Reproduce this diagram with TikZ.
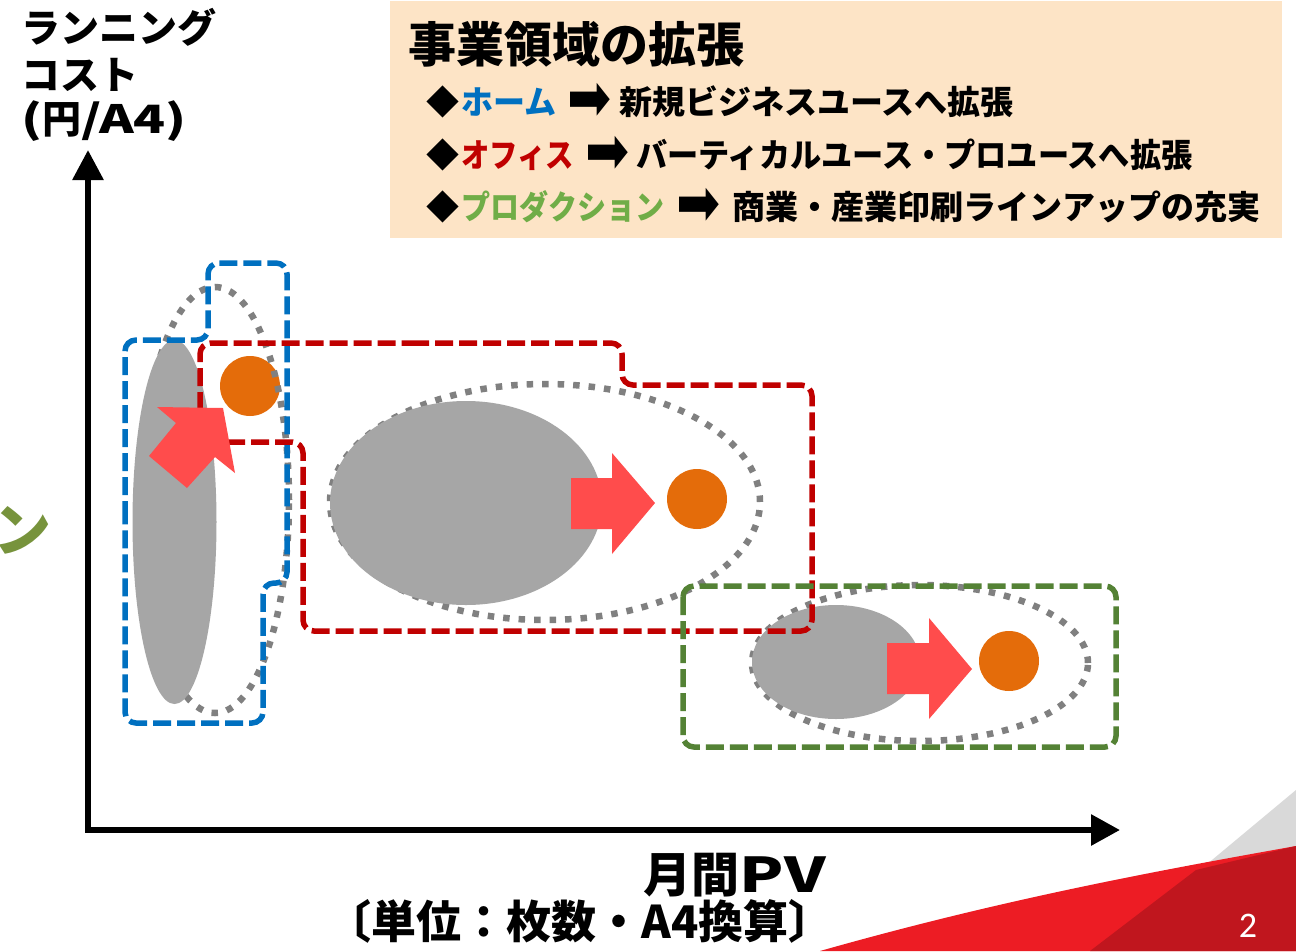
\documentclass[tikz,border=0pt]{standalone}
\usepackage{fontspec}
\usepackage{graphicx}
\newfontfamily\jp{Noto Sans CJK JP}
\newfontfamily\dvs{DejaVu Sans}
\newfontfamily\carl{Carlito}
\usetikzlibrary{arrows.meta}
\newcommand{\jfs}[1]{\fontsize{#1pt}{#1pt}\selectfont}
\newcommand{\bigrarr}{{\dvs\jfs{34}\scalebox{1.55}[1.95]{➡}}}
\definecolor{homeblue}{HTML}{0070C0}
\definecolor{offred}{HTML}{C00000}
\definecolor{prodgreen}{HTML}{548235}
\definecolor{txtgreen}{HTML}{70AD47}
\definecolor{cutgreen}{HTML}{77933C}
\definecolor{peach}{RGB}{253,228,198}
\definecolor{grayfill}{HTML}{A6A6A6}
\definecolor{dotgray}{HTML}{808080}
\definecolor{orng}{HTML}{E46C0A}
\definecolor{arrred}{RGB}{255,76,76}
\definecolor{decored}{HTML}{ED1C24}
\definecolor{decodark}{HTML}{C0161E}
\definecolor{decogray}{HTML}{D9D9D9}
\tikzset{
  jtxt/.style={inner sep=0pt, anchor=base west},
  dotline/.style={draw=dotgray, line width=6.5pt, dash pattern=on 6.5pt off 9pt},
  dashline/.style={line width=5.5pt, dash pattern=on 18pt off 6pt, rounded corners=11pt},
  blob/.style={fill=grayfill},
  target/.style={fill=orng},
  bigarrow/.style={fill=arrred},
}
\begin{document}
\begin{tikzpicture}[x=1pt,y=-1pt]
\useasboundingbox (0,0) rectangle (1296,951);
\fill[white] (0,0) rectangle (1296,951);

% decoration bottom right
\fill[decogray] (1296,790) -- (1200,870) -- (1296,846) -- cycle;
\fill[decored] (820,951) .. controls (1000,900) and (1150,872) .. (1296,846) -- (1296,951) -- cycle;
\fill[decodark] (1090,951) -- (1196,870) -- (1296,846) -- (1296,951) -- cycle;
\node[inner sep=0pt, anchor=base, text=white, font=\carl\jfs{36}] (pagenum) at (1248,937) {2};

% peach box
\fill[peach] (390,1) rectangle (1282,238);
\node[jtxt, font=\jp\bfseries\jfs{48}] (title) at (408,62) {事業領域の拡張};

\node[jtxt, font=\jp\bfseries\jfs{33}] (d1) at (426,114) {◆};
\node[jtxt, font=\jp\bfseries\jfs{33}, text=homeblue] (w1) at (461,114) {\scalebox{0.97}[1]{ホーム}};
\node[jtxt] (a1) at (567,120) {\bigrarr};
\node[jtxt, font=\jp\bfseries\jfs{33}] (t1) at (619,114) {新規ビジネスユースへ拡張};

\node[jtxt, font=\jp\bfseries\jfs{33}] (d2) at (426,167) {◆};
\node[jtxt, font=\jp\bfseries\jfs{33}, text=offred] (w2) at (461,167) {\scalebox{0.86}[1]{オフィス}};
\node[jtxt] (a2) at (585,173) {\bigrarr};
\node[jtxt, font=\jp\bfseries\jfs{33}] (t2) at (636,167) {\scalebox{0.945}[1]{バーティカルユース・プロユースへ拡張}};

\node[jtxt, font=\jp\bfseries\jfs{33}] (d3) at (426,219) {◆};
\node[jtxt, font=\jp\bfseries\jfs{33}, text=txtgreen] (w3) at (461,219) {\scalebox{0.88}[1]{プロダクション}};
\node[jtxt] (a3) at (676,225) {\bigrarr};
\node[jtxt, font=\jp\bfseries\jfs{33}] (t3) at (732,219) {商業・産業印刷ラインアップの充実};

% axis labels
\node[jtxt, font=\jp\bfseries\jfs{39}] (yl1) at (21,42) {ランニング};
\node[jtxt, font=\jp\bfseries\jfs{39}] (yl2) at (21,89) {コスト};
\node[jtxt, font=\jp\bfseries\jfs{39}] (yl3) at (21,133) {\scalebox{1.35}[1]{(}円\scalebox{1.35}[1]{/A4)}};
\node[inner sep=0pt, anchor=base east, font=\jp\bfseries\jfs{48}] (xl1) at (826,892) {月間\scalebox{1.35}[1]{PV}};
\node[inner sep=0pt, anchor=base east, font=\jp\bfseries\jfs{45}] (xl2) at (834,938) {〔単位：枚数・A4換算〕};

% cut-off label at left edge (clipped in the reference too)
\node[inner sep=0pt, anchor=base east, text=cutgreen, font=\jp\bfseries\jfs{58}] (cutl) at (52,551) {ン};

% axes
\coordinate (ytip) at (88,150);
\coordinate (orig) at (88,830);
\coordinate (xtip) at (1120,830);
\draw[line width=6pt, line join=miter, {Triangle[length=30pt,width=30pt]}-{Triangle[length=29pt,width=30pt]}] (ytip) -- (orig) -- (xtip);

% targets (below dotted outlines)
\fill[target] (250,386) circle (30pt);
\fill[target] (697,499) circle (30pt);
\fill[target] (1009,661) circle (30pt);

% dotted outlines
\draw[dotline] (215,500) ellipse [x radius=74pt, y radius=213pt];
\draw[dotline] (545,502) ellipse [x radius=215pt, y radius=118pt];
\draw[dotline] (920,663) ellipse [x radius=168pt, y radius=78pt];

% gray blobs
\fill[blob] (174.5,522) ellipse [x radius=42pt, y radius=182pt];
\fill[blob] (466,503) ellipse [x radius=136pt, y radius=102pt];
\fill[blob] (836,662) ellipse [x radius=84pt, y radius=57pt];

% dashed regions
\draw[dashline, draw=homeblue] (125,530) -- (125,340) -- (208,340) -- (208,263) -- (287,263) -- (287,583) -- (263,583) -- (263,723) -- (125,723) -- cycle;
\draw[dashline, draw=offred] (400,343) -- (622,343) -- (622,385) -- (812,385) -- (812,631) -- (303,631) -- (303,442) -- (200,442) -- (200,343) -- cycle;
\draw[dashline, draw=prodgreen] (683,586) rectangle (1116,747);

% block arrows
\fill[bigarrow] (223,408) -- (235,473) -- (215,457) -- (187,488) -- (149,456) -- (176,423) -- (157,407) -- cycle;
\fill[bigarrow] (571,478) -- (612,478) -- (612,453) -- (655,503) -- (612,554) -- (612,529) -- (571,529) -- cycle;
\fill[bigarrow] (887,643) -- (929,643) -- (929,618) -- (972,669) -- (929,719) -- (929,694) -- (887,694) -- cycle;
\end{tikzpicture}
\end{document}
